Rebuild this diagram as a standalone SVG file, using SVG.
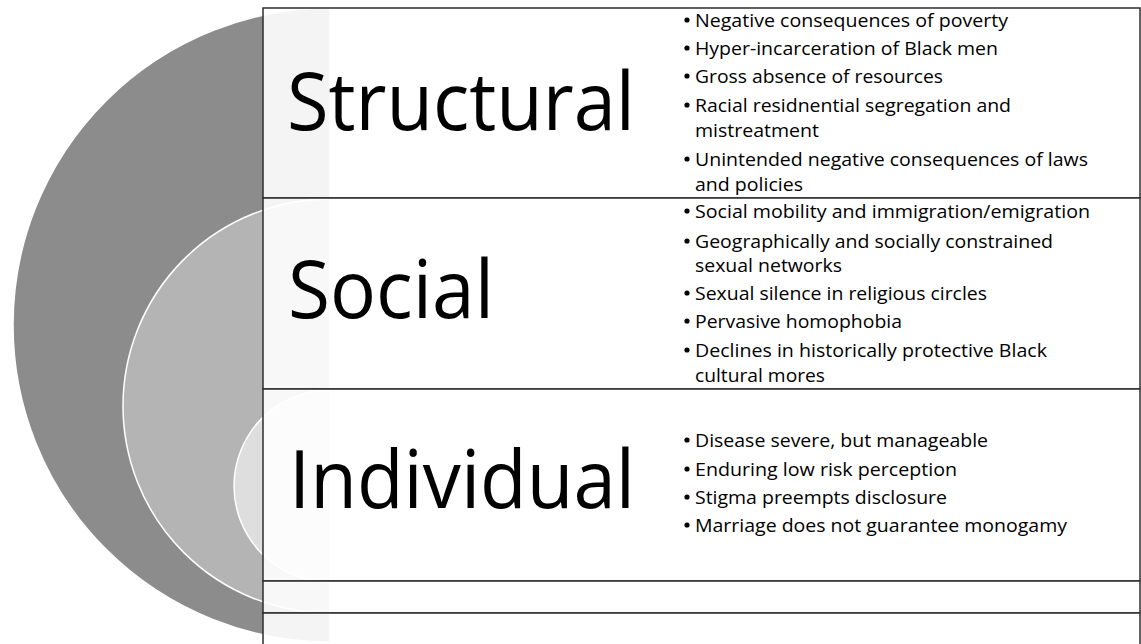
<svg xmlns="http://www.w3.org/2000/svg" width="1141" height="644" viewBox="0 0 1141 644">
  <defs>
    <style>
      .ring { stroke: #ffffff; stroke-width: 1.5; }
      .panel { fill: #ffffff; fill-opacity: 0.9; stroke: #2e2e2e; stroke-width: 1.5; }
      .title { font-family: "Open Sans", "Liberation Sans", sans-serif; font-size: 80px; fill: #000000; }
      .item { font-family: "Open Sans", "Liberation Sans", sans-serif; font-size: 18.5px; fill: #000000; }
      .dot { fill: #000000; }
    </style>
  </defs>

  <rect width="1141" height="644" fill="#ffffff"/>

  <!-- nested half-discs on the left -->
  <g id="rings">
    <path class="ring" d="M330 8 A317 317 0 0 0 330 642 Z" fill="#8c8c8c"/>
    <path class="ring" d="M330 199 A207 207 0 0 0 330 613 Z" fill="#b4b4b4"/>
    <path class="ring" d="M330 390 A96 96 0 0 0 330 582 Z" fill="#dedede"/>
  </g>

  <!-- Structural level -->
  <g id="structural">
    <rect class="panel" x="263" y="8" width="877" height="190"/>
    <text class="title" x="287" y="130" textLength="348" lengthAdjust="spacingAndGlyphs">Structural</text>
    <g class="item">
      <circle class="dot" cx="687" cy="20" r="2.6"/>
      <text x="695" y="27" textLength="313" lengthAdjust="spacingAndGlyphs">Negative consequences of poverty</text>
      <circle class="dot" cx="687" cy="48" r="2.6"/>
      <text x="695" y="55" textLength="303" lengthAdjust="spacingAndGlyphs">Hyper-incarceration of Black men</text>
      <circle class="dot" cx="687" cy="76" r="2.6"/>
      <text x="695" y="83" textLength="248" lengthAdjust="spacingAndGlyphs">Gross absence of resources</text>
      <circle class="dot" cx="687" cy="105" r="2.6"/>
      <text x="695" y="112" textLength="316" lengthAdjust="spacingAndGlyphs">Racial residnential segregation and</text>
      <text x="695" y="137" textLength="124" lengthAdjust="spacingAndGlyphs">mistreatment</text>
      <circle class="dot" cx="687" cy="159" r="2.6"/>
      <text x="695" y="166" textLength="393" lengthAdjust="spacingAndGlyphs">Unintended negative consequences of laws</text>
      <text x="695" y="191" textLength="108" lengthAdjust="spacingAndGlyphs">and policies</text>
    </g>
  </g>

  <!-- Social level -->
  <g id="social">
    <rect class="panel" x="263" y="198" width="877" height="191"/>
    <text class="title" x="288" y="318" textLength="206" lengthAdjust="spacingAndGlyphs">Social</text>
    <g class="item">
      <circle class="dot" cx="687" cy="211" r="2.6"/>
      <text x="695" y="218" textLength="395" lengthAdjust="spacingAndGlyphs">Social mobility and immigration/emigration</text>
      <circle class="dot" cx="687" cy="241" r="2.6"/>
      <text x="695" y="248" textLength="358" lengthAdjust="spacingAndGlyphs">Geographically and socially constrained</text>
      <text x="695" y="272" textLength="147" lengthAdjust="spacingAndGlyphs">sexual networks</text>
      <circle class="dot" cx="687" cy="293" r="2.6"/>
      <text x="695" y="300" textLength="292" lengthAdjust="spacingAndGlyphs">Sexual silence in religious circles</text>
      <circle class="dot" cx="687" cy="321" r="2.6"/>
      <text x="695" y="328" textLength="207" lengthAdjust="spacingAndGlyphs">Pervasive homophobia</text>
      <circle class="dot" cx="687" cy="350" r="2.6"/>
      <text x="695" y="357" textLength="352" lengthAdjust="spacingAndGlyphs">Declines in historically protective Black</text>
      <text x="695" y="382" textLength="130" lengthAdjust="spacingAndGlyphs">cultural mores</text>
    </g>
  </g>

  <!-- Individual level -->
  <g id="individual">
    <rect class="panel" x="263" y="389" width="877" height="192"/>
    <text class="title" x="289" y="508" textLength="346" lengthAdjust="spacingAndGlyphs">Individual</text>
    <g class="item">
      <circle class="dot" cx="687" cy="440" r="2.6"/>
      <text x="695" y="447" textLength="293" lengthAdjust="spacingAndGlyphs">Disease severe, but manageable</text>
      <circle class="dot" cx="687" cy="469" r="2.6"/>
      <text x="695" y="476" textLength="262" lengthAdjust="spacingAndGlyphs">Enduring low risk perception</text>
      <circle class="dot" cx="687" cy="497" r="2.6"/>
      <text x="695" y="504" textLength="252" lengthAdjust="spacingAndGlyphs">Stigma preempts disclosure</text>
      <circle class="dot" cx="687" cy="525" r="2.6"/>
      <text x="695" y="532" textLength="372" lengthAdjust="spacingAndGlyphs">Marriage does not guarantee monogamy</text>
    </g>
  </g>

  <!-- empty lower rows -->
  <g id="blank-row-1">
    <rect class="panel" x="263" y="581" width="877" height="32"/>
  </g>
  <g id="blank-row-2">
    <rect class="panel" x="263" y="613" width="877" height="40"/>
  </g>
</svg>
